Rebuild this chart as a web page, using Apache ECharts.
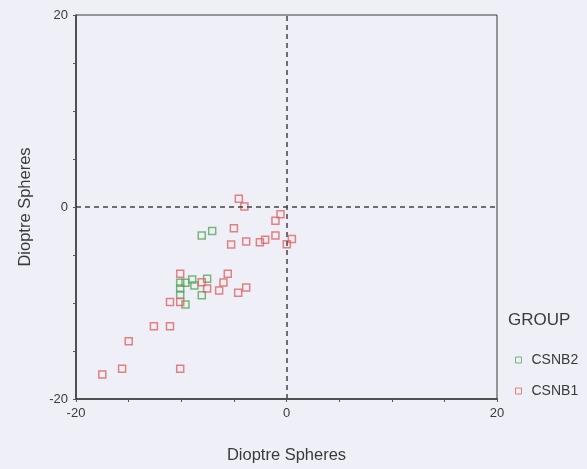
<!DOCTYPE html>
<html>
<head>
<meta charset="utf-8">
<script src="https://cdn.jsdelivr.net/npm/echarts@6/dist/echarts.min.js"></script>
<style>
  html, body { margin: 0; padding: 0; background: #efeff8; }
  #chart { width: 587px; height: 469px; }
</style>
</head>
<body>
<div id="chart"></div>
<script>
// x = Dioptre Spheres (horizontal), y = Dioptre Spheres (vertical)
var csnb2 = [
  [-8.05, -2.98], [-7.06, -2.5],
  [-10.1, -7.9], [-10.1, -8.48], [-10.1, -9.14],
  [-9.6, -7.9], [-8.96, -7.55], [-8.75, -8.17], [-7.54, -7.48],
  [-8.05, -9.18], [-9.6, -10.15]
]
var csnb1 = [
  [-4.53, 0.86], [-4.0, 0.06], [-0.57, -0.75], [-1.05, -1.42],
  [-5.0, -2.22], [-1.05, -2.98], [0.51, -3.33], [0.03, -3.88],
  [-2.03, -3.4], [-2.53, -3.67], [-3.83, -3.6], [-5.26, -3.91],
  [-10.1, -6.96], [-5.58, -6.96], [-5.99, -7.87], [-8.05, -7.83],
  [-7.54, -8.48], [-6.4, -8.7], [-3.83, -8.38], [-4.59, -8.93],
  [-11.07, -9.9], [-10.1, -9.9], [-12.6, -12.43], [-11.07, -12.43],
  [-14.99, -13.99], [-15.62, -16.86], [-17.5, -17.45], [-10.1, -16.86]
]
var axisMin = -20
var axisMax = 20
var tickLabels = [-20, 0, 20]

var axisCommon = {
  min: axisMin,
  max: axisMax,
  interval: 5,
  axisLine: { onZero: false, lineStyle: { color: '#3a3a3a', width: 1.5 } },
  axisTick: { show: true, length: 3, lineStyle: { color: '#555' } },
  splitLine: { show: false },
  axisLabel: {
    color: '#3a3a3a',
    fontFamily: 'Liberation Sans',
    fontSize: 13,
    formatter: function (v) {
      return tickLabels.indexOf(v) >= 0 ? String(v) : ''
    }
  },
  nameLocation: 'middle',
  nameTextStyle: { color: '#3a3a3a', fontFamily: 'Liberation Sans', fontSize: 16.5 }
}

var myChart = echarts.init(document.getElementById('chart'))
var option = {
  backgroundColor: '#efeff8',
  animation: false,
  grid: { left: 76, right: 90, top: 15, bottom: 69, show: true, borderColor: '#3a3a3a', borderWidth: 1 },
  xAxis: Object.assign({}, axisCommon, { type: 'value', name: 'Dioptre Spheres', nameGap: 48 }),
  yAxis: Object.assign({}, axisCommon, { type: 'value', name: 'Dioptre Spheres', nameGap: 42 }),
  graphic: [{
    type: 'text', left: 508, top: 312,
    style: { text: 'GROUP', fill: '#3a3a3a', font: '17px "Liberation Sans"' }
  }],
  legend: {
    orient: 'vertical',
    left: 510,
    top: 348,
    itemWidth: 6,
    itemHeight: 6,
    itemGap: 17,
    textStyle: { color: '#3a3a3a', fontFamily: 'Liberation Sans', fontSize: 14, padding: [0, 0, 0, 5] },
    data: [
      { name: 'CSNB2', icon: 'rect', itemStyle: { color: 'rgba(0,0,0,0)', borderColor: '#5aa65a', borderWidth: 1 } },
      { name: 'CSNB1', icon: 'rect', itemStyle: { color: 'rgba(0,0,0,0)', borderColor: '#e06464', borderWidth: 1 } }
    ]
  },
  series: [
    {
      name: 'CSNB2',
      type: 'scatter',
      symbol: 'rect',
      symbolSize: 7,
      itemStyle: { color: 'rgba(0,0,0,0)', borderColor: '#5aa65a', borderWidth: 1.5 },
      data: csnb2
    },
    {
      name: 'CSNB1',
      type: 'scatter',
      symbol: 'rect',
      symbolSize: 7,
      itemStyle: { color: 'rgba(0,0,0,0)', borderColor: '#e06464', borderWidth: 1.5 },
      data: csnb1,
      markLine: {
        silent: true,
        symbol: 'none',
        label: { show: false },
        lineStyle: { color: '#444', type: [5, 4], width: 1.5 },
        data: [{ xAxis: 0 }, { yAxis: 0 }]
      }
    }
  ]
}
option && myChart.setOption(option)
</script>
</body>
</html>
